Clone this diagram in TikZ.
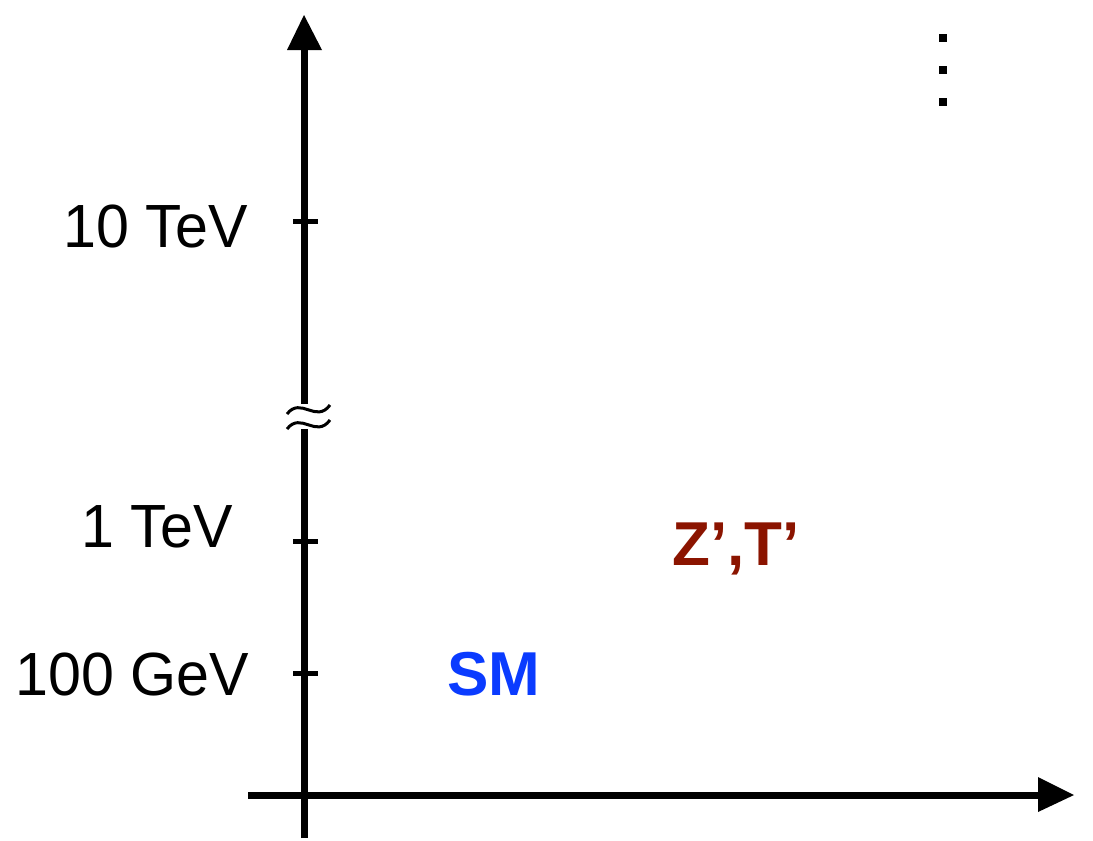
\documentclass[tikz,border=0pt]{standalone}
\usepackage{fontspec}
\newfontfamily\lbl[FakeStretch=0.97]{Liberation Sans}
\newfontfamily\lblb{Liberation Sans}
\definecolor{smblue}{HTML}{0A3BFF}
\definecolor{zred}{HTML}{8B1400}
\begin{document}
\begin{tikzpicture}[x=1pt,y=-1pt,
  axis/.style={line width=7pt},
  tickmark/.style={line width=5pt},
  ticklbl/.style={anchor=base east,inner sep=0pt,font=\lbl\fontsize{61}{61}\selectfont},
  partlbl/.style={anchor=base,inner sep=0pt,font=\lblb\bfseries\fontsize{62}{62}\selectfont},
  dotsq/.style={fill=black,minimum size=8pt,inner sep=0pt}]
\useasboundingbox (0,0) rectangle (1093,841);
% vertical axis
\coordinate (vb) at (304,838);
\coordinate (vt) at (304,48);
\draw[axis] (vb) -- (vt);
\fill (287,50) -- (304,15) -- (322,50) -- cycle;
% horizontal axis
\coordinate (hl) at (248,795);
\coordinate (hr) at (1040,795);
\draw[axis] (hl) -- (hr);
\fill (1038,777) -- (1074,795) -- (1038,812) -- cycle;
% ticks
\draw[tickmark] (293,221) -- (318,221);
\draw[tickmark] (293,541) -- (318,541);
\draw[tickmark] (293,673) -- (318,673);
% labels
\node[ticklbl] (l10) at (248,247) {10 TeV};
\node[ticklbl] (l1) at (233,547) {1 TeV};
\node[ticklbl] (l100) at (249,695) {100 GeV};
% axis break
\fill[white] (288,404) rectangle (322,429);
\draw[line width=3pt] (287,414) .. controls (301,396) and (316,424) .. (330,405);
\draw[line width=3pt] (287,429) .. controls (301,411) and (316,439) .. (330,420);
% dots
\node[dotsq] (d1) at (943,38) {};
\node[dotsq] (d2) at (943,70) {};
\node[dotsq] (d3) at (943,102) {};
% particle labels
\node[partlbl,text=smblue] (sm) at (494,695) {SM};
\node[partlbl,text=zred] (zt) at (736,565) {Z’,T’};
\end{tikzpicture}
\end{document}
